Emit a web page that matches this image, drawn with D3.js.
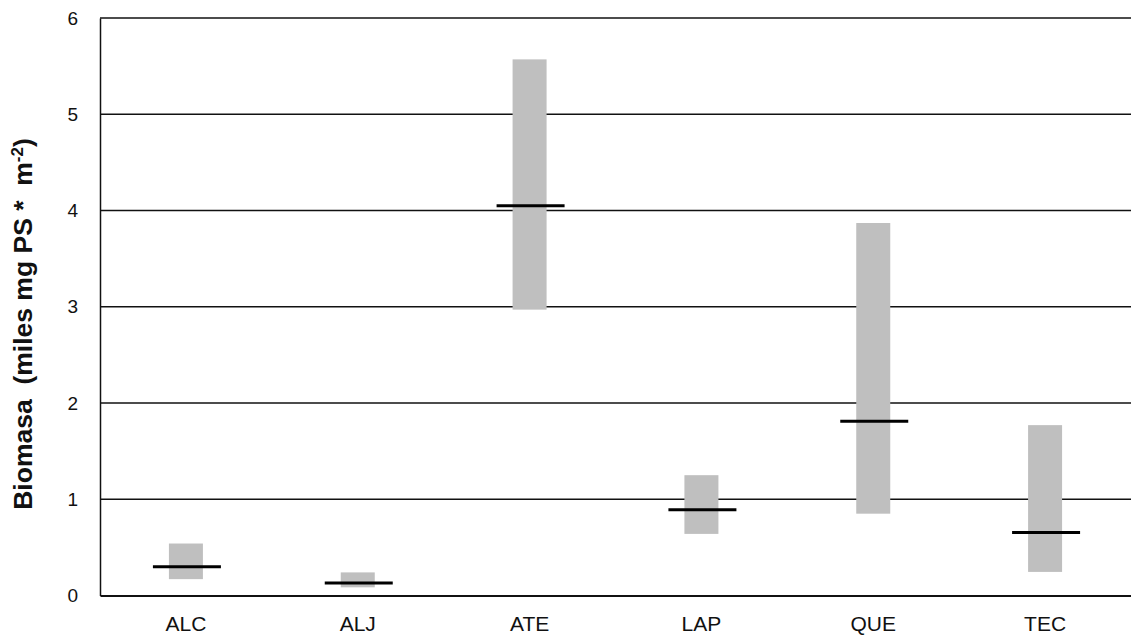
<!DOCTYPE html>
<html>
<head>
<meta charset="utf-8">
<script src="https://cdn.jsdelivr.net/npm/d3@7"></script>
<style>
  body { margin: 0; background: #fff; }
  text { font-family: "Liberation Sans", Arial, sans-serif; }
</style>
</head>
<body>
<svg id="chart" width="1131" height="637"></svg>
<script>
const categories = ["ALC", "ALJ", "ATE", "LAP", "QUE", "TEC"];
const lowValues = [0.17, 0.085, 2.97, 0.64, 0.85, 0.245];
const highValues = [0.54, 0.24, 5.57, 1.25, 3.87, 1.77];
const medianValues = [0.30, 0.13, 4.05, 0.89, 1.81, 0.655];
const yTicks = [0, 1, 2, 3, 4, 5, 6];

const svg = d3.select("#chart");
const plotLeft = 100, plotRight = 1131, plotTop = 18, plotBottom = 595.5;

const x = d3.scaleBand().domain(categories).range([plotLeft, plotRight]);
const y = d3.scaleLinear().domain([0, 6]).range([plotBottom, plotTop]);

// gridlines
svg.append("g").selectAll("line").data(yTicks.filter(d => d > 0)).join("line")
  .attr("x1", plotLeft).attr("x2", plotRight)
  .attr("y1", d => y(d)).attr("y2", d => y(d))
  .attr("stroke", "#111").attr("stroke-width", 1.6);

// axes
const yAxis = d3.axisLeft(y).tickValues(yTicks).tickSize(0).tickPadding(22).tickFormat(d3.format("d"));
const gy = svg.append("g").attr("transform", `translate(${plotLeft},0)`).call(yAxis);
gy.select(".domain").attr("stroke", "#111").attr("stroke-width", 1.5);
gy.selectAll("text").attr("font-size", 19).attr("fill", "#111")
  .style("font-family", "'Liberation Sans', Arial, sans-serif");

const xAxis = d3.axisBottom(x).tickSize(0).tickPadding(21);
const gx = svg.append("g").attr("transform", `translate(0,${plotBottom})`).call(xAxis);
gx.select(".domain").attr("stroke", "#111").attr("stroke-width", 2);
gx.selectAll("text").attr("font-size", 21).attr("fill", "#111")
  .style("font-family", "'Liberation Sans', Arial, sans-serif");

// range bars
const barW = 34;
svg.append("g").selectAll("rect").data(categories).join("rect")
  .attr("x", (d) => x(d) + x.bandwidth() / 2 - barW / 2)
  .attr("width", barW)
  .attr("y", (d, i) => y(highValues[i]))
  .attr("height", (d, i) => y(lowValues[i]) - y(highValues[i]))
  .attr("fill", "#bfbfbf");

// median lines
const medW = 68;
svg.append("g").selectAll("line").data(categories).join("line")
  .attr("x1", d => x(d) + x.bandwidth() / 2 - medW / 2 + 1)
  .attr("x2", d => x(d) + x.bandwidth() / 2 + medW / 2 + 1)
  .attr("y1", (d, i) => y(medianValues[i]))
  .attr("y2", (d, i) => y(medianValues[i]))
  .attr("stroke", "#000").attr("stroke-width", 3);

// y title
const title = svg.append("text")
  .attr("transform", "translate(32,324) rotate(-90)")
  .attr("text-anchor", "middle")
  .style("white-space", "pre")
  .attr("font-size", 26.5).attr("font-weight", "bold").attr("fill", "#111");
title.append("tspan").text("Biomasa  (miles mg PS *  m");
title.append("tspan").attr("baseline-shift", "super").attr("font-size", 17).text("-2");
title.append("tspan").text(")");
</script>
</body>
</html>
